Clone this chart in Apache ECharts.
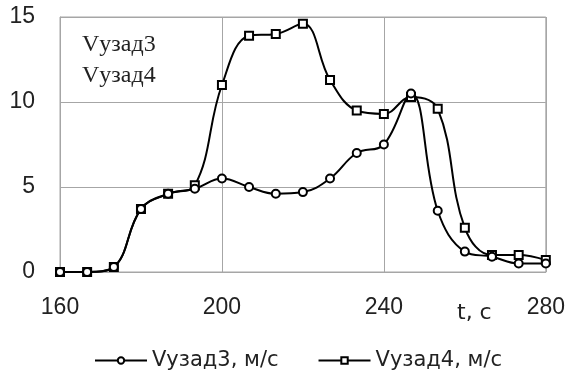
<!DOCTYPE html>
<html>
<head>
<meta charset="utf-8">
<script src="https://cdn.jsdelivr.net/npm/echarts@6/dist/echarts.min.js"></script>
<style>
  html, body { margin: 0; padding: 0; background: #fff; }
  #chart { width: 568px; height: 376px; }
</style>
</head>
<body>
<div id="chart"></div>
<script>
// Time samples, s
const times = [160, 166.7, 173.3, 180, 186.7, 193.3, 200, 206.7, 213.3, 220,
               226.7, 233.3, 240, 246.7, 253.3, 260, 266.7, 273.3, 280];
// Speed, m/s
const vUzad3 = [0, 0, 0.3, 3.7, 4.6, 4.9, 5.5, 5.0, 4.6, 4.7,
                5.5, 7.0, 7.5, 10.5, 3.6, 1.2, 0.9, 0.5, 0.5];
const vUzad4 = [0, 0, 0.3, 3.7, 4.6, 5.1, 11.0, 13.9, 14.0, 14.6,
                11.3, 9.5, 9.3, 10.3, 9.6, 2.6, 1.0, 1.0, 0.7];
const seriesNames = ['Vузад3, м/с', 'Vузад4, м/с'];
const boxLabels = ['Vузад3', 'Vузад4'];
const axisTitle = 't, c';

const pairs = (ys) => times.map((t, i) => [t, ys[i]]);
const gridColor = '#a6a6a6';
const labelFont = '"Liberation Sans", Arial, sans-serif';
const legendFont = '"DejaVu Sans", sans-serif';

const chart = echarts.init(document.getElementById('chart'));
chart.setOption({
  animation: false,
  backgroundColor: '#fff',
  grid: {
    left: 60, right: 21, top: 17, bottom: 104,
    show: true, borderColor: gridColor, borderWidth: 1
  },
  xAxis: {
    type: 'value', min: 160, max: 280, interval: 40,
    axisLine: { show: true, lineStyle: { color: gridColor, width: 1 } },
    axisTick: { show: false },
    splitLine: { show: true, lineStyle: { color: gridColor, width: 1 } },
    axisLabel: { color: '#222', fontSize: 23, fontFamily: labelFont, margin: 24 }
  },
  yAxis: {
    type: 'value', min: 0, max: 15, interval: 5,
    axisLine: { show: true, lineStyle: { color: gridColor, width: 1 } },
    axisTick: { show: false },
    splitLine: { show: true, lineStyle: { color: gridColor, width: 1 } },
    axisLabel: { color: '#222', fontSize: 23, fontFamily: labelFont, margin: 25 }
  },
  legend: {
    top: 345, left: 89, itemGap: 39, itemWidth: 52, itemHeight: 8,
    textStyle: { color: '#222', fontSize: 21, fontFamily: legendFont },
    data: seriesNames
  },
  graphic: [
    { type: 'text', left: 82, top: 33,
      style: { text: boxLabels[0], font: '24px "Liberation Serif", serif', fill: '#222' } },
    { type: 'text', left: 82, top: 64,
      style: { text: boxLabels[1], font: '24px "Liberation Serif", serif', fill: '#222' } },
    { type: 'text', left: 457, top: 302,
      style: { text: axisTitle, font: '22px ' + legendFont, fill: '#222' } }
  ],
  series: [
    {
      name: seriesNames[0], type: 'line', smooth: 0.4,
      data: pairs(vUzad3),
      symbol: 'circle', symbolSize: 8,
      lineStyle: { color: '#000', width: 2 },
      itemStyle: { color: '#fff', borderColor: '#000', borderWidth: 2 },
      z: 3
    },
    {
      name: seriesNames[1], type: 'line', smooth: 0.4,
      data: pairs(vUzad4),
      symbol: 'rect', symbolSize: 8,
      lineStyle: { color: '#000', width: 2 },
      itemStyle: { color: '#fff', borderColor: '#000', borderWidth: 2 },
      z: 2
    }
  ]
});
</script>
</body>
</html>
